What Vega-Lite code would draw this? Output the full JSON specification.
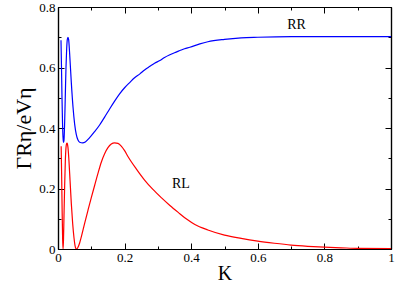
{
  "$schema": "https://vega.github.io/schema/vega-lite/v6.json",
  "width": 333,
  "height": 242,
  "autosize": "none",
  "padding": {"left": 58, "top": 7, "right": 4, "bottom": 34},
  "background": "white",
  "config": {
    "font": "Times New Roman",
    "view": {"stroke": null},
    "axis": {
      "grid": false,
      "domainColor": "black",
      "domainWidth": 1.2,
      "tickColor": "black",
      "tickWidth": 1,
      "labelColor": "black",
      "titleColor": "black",
      "labelFont": "Times New Roman",
      "titleFont": "Times New Roman",
      "labelFlush": false,
      "labelOverlap": false,
      "labelBound": false
    }
  },
  "datasets": {
    "curves": [
      {"K": 0.009, "G": 0.69, "s": "RR"}, {"K": 0.0105, "G": 0.6, "s": "RR"}, {"K": 0.012, "G": 0.5, "s": "RR"},
      {"K": 0.0135, "G": 0.42, "s": "RR"}, {"K": 0.015, "G": 0.37, "s": "RR"}, {"K": 0.0165, "G": 0.352, "s": "RR"},
      {"K": 0.018, "G": 0.36, "s": "RR"}, {"K": 0.02, "G": 0.42, "s": "RR"}, {"K": 0.022, "G": 0.51, "s": "RR"},
      {"K": 0.024, "G": 0.6, "s": "RR"}, {"K": 0.026, "G": 0.66, "s": "RR"}, {"K": 0.028, "G": 0.693, "s": "RR"},
      {"K": 0.03, "G": 0.7, "s": "RR"}, {"K": 0.032, "G": 0.692, "s": "RR"}, {"K": 0.035, "G": 0.645, "s": "RR"},
      {"K": 0.04, "G": 0.55, "s": "RR"}, {"K": 0.045, "G": 0.47, "s": "RR"}, {"K": 0.05, "G": 0.413, "s": "RR"},
      {"K": 0.055, "G": 0.378, "s": "RR"}, {"K": 0.06, "G": 0.36, "s": "RR"}, {"K": 0.065, "G": 0.353, "s": "RR"},
      {"K": 0.074, "G": 0.351, "s": "RR"}, {"K": 0.082, "G": 0.354, "s": "RR"}, {"K": 0.095, "G": 0.368, "s": "RR"},
      {"K": 0.11, "G": 0.388, "s": "RR"}, {"K": 0.125, "G": 0.41, "s": "RR"}, {"K": 0.14, "G": 0.436, "s": "RR"},
      {"K": 0.155, "G": 0.463, "s": "RR"}, {"K": 0.17, "G": 0.489, "s": "RR"}, {"K": 0.185, "G": 0.513, "s": "RR"},
      {"K": 0.2, "G": 0.533, "s": "RR"}, {"K": 0.216, "G": 0.551, "s": "RR"}, {"K": 0.23, "G": 0.566, "s": "RR"},
      {"K": 0.246, "G": 0.579, "s": "RR"}, {"K": 0.26, "G": 0.592, "s": "RR"}, {"K": 0.276, "G": 0.604, "s": "RR"},
      {"K": 0.29, "G": 0.614, "s": "RR"}, {"K": 0.306, "G": 0.623, "s": "RR"}, {"K": 0.32, "G": 0.633, "s": "RR"},
      {"K": 0.336, "G": 0.642, "s": "RR"}, {"K": 0.35, "G": 0.649, "s": "RR"}, {"K": 0.366, "G": 0.656, "s": "RR"},
      {"K": 0.38, "G": 0.662, "s": "RR"}, {"K": 0.396, "G": 0.667, "s": "RR"}, {"K": 0.426, "G": 0.678, "s": "RR"},
      {"K": 0.45, "G": 0.685, "s": "RR"}, {"K": 0.5, "G": 0.693, "s": "RR"}, {"K": 0.55, "G": 0.698, "s": "RR"},
      {"K": 0.6, "G": 0.7, "s": "RR"}, {"K": 0.7, "G": 0.702, "s": "RR"}, {"K": 0.8, "G": 0.702, "s": "RR"},
      {"K": 0.9, "G": 0.702, "s": "RR"}, {"K": 1.0, "G": 0.702, "s": "RR"},
      {"K": 0.0095, "G": 0.34, "s": "RL"}, {"K": 0.011, "G": 0.24, "s": "RL"}, {"K": 0.0125, "G": 0.12, "s": "RL"},
      {"K": 0.014, "G": 0.03, "s": "RL"}, {"K": 0.0152, "G": 0.0, "s": "RL"}, {"K": 0.0165, "G": 0.03, "s": "RL"},
      {"K": 0.018, "G": 0.11, "s": "RL"}, {"K": 0.02, "G": 0.21, "s": "RL"}, {"K": 0.022, "G": 0.29, "s": "RL"},
      {"K": 0.024, "G": 0.335, "s": "RL"}, {"K": 0.026, "G": 0.349, "s": "RL"}, {"K": 0.027, "G": 0.35, "s": "RL"},
      {"K": 0.028, "G": 0.348, "s": "RL"}, {"K": 0.03, "G": 0.335, "s": "RL"}, {"K": 0.033, "G": 0.29, "s": "RL"},
      {"K": 0.036, "G": 0.23, "s": "RL"}, {"K": 0.04, "G": 0.15, "s": "RL"}, {"K": 0.044, "G": 0.085, "s": "RL"},
      {"K": 0.048, "G": 0.037, "s": "RL"}, {"K": 0.051, "G": 0.012, "s": "RL"}, {"K": 0.054, "G": 0.001, "s": "RL"},
      {"K": 0.056, "G": 0.0, "s": "RL"}, {"K": 0.06, "G": 0.006, "s": "RL"}, {"K": 0.065, "G": 0.02, "s": "RL"},
      {"K": 0.07, "G": 0.04, "s": "RL"}, {"K": 0.08, "G": 0.085, "s": "RL"}, {"K": 0.09, "G": 0.128, "s": "RL"},
      {"K": 0.1, "G": 0.17, "s": "RL"}, {"K": 0.11, "G": 0.21, "s": "RL"}, {"K": 0.12, "G": 0.25, "s": "RL"},
      {"K": 0.13, "G": 0.287, "s": "RL"}, {"K": 0.14, "G": 0.315, "s": "RL"}, {"K": 0.15, "G": 0.335, "s": "RL"},
      {"K": 0.16, "G": 0.347, "s": "RL"}, {"K": 0.17, "G": 0.351, "s": "RL"}, {"K": 0.18, "G": 0.349, "s": "RL"},
      {"K": 0.19, "G": 0.34, "s": "RL"}, {"K": 0.2, "G": 0.325, "s": "RL"}, {"K": 0.21, "G": 0.306, "s": "RL"},
      {"K": 0.235, "G": 0.265, "s": "RL"}, {"K": 0.26, "G": 0.228, "s": "RL"}, {"K": 0.285, "G": 0.197, "s": "RL"},
      {"K": 0.311, "G": 0.169, "s": "RL"}, {"K": 0.336, "G": 0.144, "s": "RL"}, {"K": 0.361, "G": 0.121, "s": "RL"},
      {"K": 0.386, "G": 0.099, "s": "RL"}, {"K": 0.411, "G": 0.081, "s": "RL"}, {"K": 0.45, "G": 0.063, "s": "RL"},
      {"K": 0.5, "G": 0.046, "s": "RL"}, {"K": 0.55, "G": 0.035, "s": "RL"}, {"K": 0.6, "G": 0.026, "s": "RL"},
      {"K": 0.65, "G": 0.019, "s": "RL"}, {"K": 0.7, "G": 0.013, "s": "RL"}, {"K": 0.75, "G": 0.009, "s": "RL"},
      {"K": 0.8, "G": 0.006, "s": "RL"}, {"K": 0.85, "G": 0.004, "s": "RL"}, {"K": 0.9, "G": 0.002, "s": "RL"},
      {"K": 1.0, "G": 0.001, "s": "RL"}
    ],
    "labels": [
      {"K": 0.7165, "G": 0.7396, "t": "RR"},
      {"K": 0.369, "G": 0.2157, "t": "RL"}
    ]
  },
  "layer": [
    {
      "data": {"name": "curves"},
      "transform": [{"filter": "datum.s == 'RR'"}],
      "mark": {"type": "line", "color": "#0000ff", "strokeWidth": 1.2, "clip": true, "interpolate": "monotone"},
      "encoding": {
        "x": {"field": "K", "type": "quantitative", "scale": {"domain": [0, 1], "nice": false, "zero": false},
          "axis": {"orient": "bottom", "values": [0, 0.2, 0.4, 0.6, 0.8, 1], "tickSize": -6, "labelPadding": 8,
            "labelExpr": "format(datum.value, '~g')", "labelFontSize": 13,
            "title": "K", "titleFontSize": 20, "titleFontWeight": "normal",
            "titleBaseline": "alphabetic", "titleY": 30}},
        "y": {"field": "G", "type": "quantitative", "scale": {"domain": [0, 0.8], "nice": false, "zero": false},
          "axis": {"orient": "left", "values": [0, 0.2, 0.4, 0.6, 0.8], "tickSize": -6, "labelPadding": 9,
            "labelExpr": "format(datum.value, '~g')", "labelFontSize": 13,
            "title": "ΓRη/eVη", "titleFontSize": 22, "titleFontWeight": "normal",
            "titlePadding": 3}}
      }
    },
    {
      "data": {"name": "curves"},
      "transform": [{"filter": "datum.s == 'RL'"}],
      "mark": {"type": "line", "color": "#ff0000", "strokeWidth": 1.2, "clip": true, "interpolate": "monotone"},
      "encoding": {
        "x": {"field": "K", "type": "quantitative", "scale": {"domain": [0, 1], "nice": false, "zero": false},
          "axis": {"orient": "bottom", "values": [0.1, 0.3, 0.5, 0.7, 0.9], "tickSize": -3, "labels": false, "title": null}},
        "y": {"field": "G", "type": "quantitative", "scale": {"domain": [0, 0.8], "nice": false, "zero": false},
          "axis": {"orient": "left", "values": [0.1, 0.3, 0.5, 0.7], "tickSize": -3, "labels": false, "title": null}}
      }
    },
    {
      "data": {"name": "labels"},
      "transform": [{"filter": "datum.t == 'RR'"}],
      "mark": {"type": "text", "font": "Times New Roman", "fontSize": 14, "color": "black"},
      "encoding": {
        "text": {"field": "t"},
        "x": {"field": "K", "type": "quantitative", "scale": {"domain": [0, 1], "nice": false, "zero": false},
          "axis": {"orient": "top", "values": [0, 0.2, 0.4, 0.6, 0.8, 1], "tickSize": -6, "labels": false, "title": null}},
        "y": {"field": "G", "type": "quantitative", "scale": {"domain": [0, 0.8], "nice": false, "zero": false},
          "axis": {"orient": "right", "values": [0, 0.2, 0.4, 0.6, 0.8], "tickSize": -6, "labels": false, "title": null}}
      }
    },
    {
      "data": {"name": "labels"},
      "transform": [{"filter": "datum.t == 'RL'"}],
      "mark": {"type": "text", "font": "Times New Roman", "fontSize": 14, "color": "black"},
      "encoding": {
        "text": {"field": "t"},
        "x": {"field": "K", "type": "quantitative", "scale": {"domain": [0, 1], "nice": false, "zero": false},
          "axis": {"orient": "top", "values": [0.1, 0.3, 0.5, 0.7, 0.9], "tickSize": -3, "labels": false, "title": null}},
        "y": {"field": "G", "type": "quantitative", "scale": {"domain": [0, 0.8], "nice": false, "zero": false},
          "axis": {"orient": "right", "values": [0.1, 0.3, 0.5, 0.7], "tickSize": -3, "labels": false, "title": null}}
      }
    }
  ],
  "resolve": {"axis": {"x": "independent", "y": "independent"}}
}
